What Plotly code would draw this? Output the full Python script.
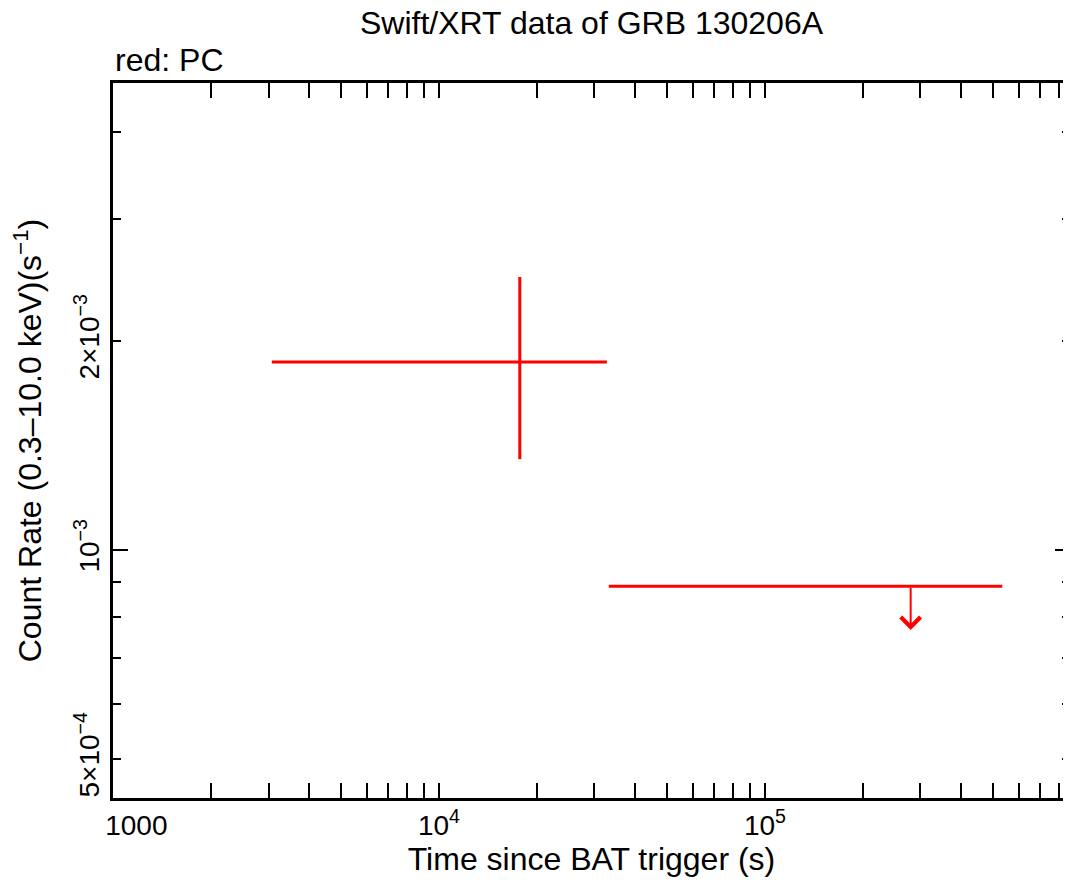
import math
import plotly.graph_objects as go

# ---- data ----
det_t = [17700.0]
det_t_lo = [3070.0]      # start of bin
det_t_hi = [32750.0]     # end of bin
det_rate = [1.866e-3]
det_rate_hi = [2.474e-3]
det_rate_lo = [1.352e-3]

ul_t = [2.80e5]
ul_t_lo = [33200.0]
ul_t_hi = [5.35e5]
ul_rate = [8.87e-4]
ul_arrow_to = [7.67e-4]

x_tickvals = [1000, 1e4, 1e5]
x_ticktext = ["\u2007\u2007\u20071000", "10<sup>4</sup>", "10<sup>5</sup>"]
y_tickvals = [5e-4, 1e-3, 2e-3]
y_ticktext = ["5×10<sup>−4</sup>", "10<sup>−3</sup>", "2×10<sup>−3</sup>"]

x_range = [3.0, 5.936]
y_range = [-3.3573, -2.3271]

RED = "#ff0000"
FONT = "Liberation Sans, Arial, Helvetica, sans-serif"
TITLE_SIZE = 32
TICK_SIZE = 28

W, H = 1063, 876
ML, MR, MT, MB = 105, 1, 75, 86
PH = H - MT - MB

fig = go.Figure()

# detection with error bars
fig.add_trace(go.Scatter(
    x=det_t, y=det_rate, mode="markers",
    marker=dict(size=0.1, color=RED),
    error_x=dict(type="data", symmetric=False,
                 array=[h - c for h, c in zip(det_t_hi, det_t)],
                 arrayminus=[c - l for c, l in zip(det_t, det_t_lo)],
                 color=RED, thickness=3, width=0),
    error_y=dict(type="data", symmetric=False,
                 array=[h - c for h, c in zip(det_rate_hi, det_rate)],
                 arrayminus=[c - l for c, l in zip(det_rate, det_rate_lo)],
                 color=RED, thickness=3, width=0),
    showlegend=False, hoverinfo="skip",
))

# upper limit horizontal bar
fig.add_trace(go.Scatter(
    x=ul_t, y=ul_rate, mode="markers",
    marker=dict(size=0.1, color=RED),
    error_x=dict(type="data", symmetric=False,
                 array=[h - c for h, c in zip(ul_t_hi, ul_t)],
                 arrayminus=[c - l for c, l in zip(ul_t, ul_t_lo)],
                 color=RED, thickness=3, width=0),
    showlegend=False, hoverinfo="skip",
))

# invisible trace for overlay axis (longer major tick at 1e-3)
fig.add_trace(go.Scatter(x=[1e4], y=[1e-3], yaxis="y2", mode="markers",
                         marker=dict(size=0.1, opacity=0), showlegend=False,
                         hoverinfo="skip"))

# upper limit arrow
for t, r0, r1 in zip(ul_t, ul_rate, ul_arrow_to):
    fig.add_annotation(
        x=math.log10(t), y=math.log10(r1), ax=math.log10(t), ay=math.log10(r0),
        xref="x", yref="y", axref="x", ayref="y",
        showarrow=True, arrowhead=4, arrowsize=1.9, arrowwidth=2,
        arrowcolor=RED, text="",
    )

x_minor = [m * 10 ** e for e in (3, 4, 5) for m in range(2, 10)]
y_minor = [m * 10 ** e for e in (-4, -3) for m in range(2, 10)]

axis_common = dict(showline=True, linecolor="black", linewidth=3, mirror="allticks",
                   ticks="inside", tickcolor="black", tickwidth=2,
                   showgrid=False, zeroline=False)

fig.update_layout(
    width=W, height=H,
    margin=dict(l=ML, r=MR, t=MT, b=MB, autoexpand=False),
    paper_bgcolor="white", plot_bgcolor="white",
    font=dict(family=FONT, size=TICK_SIZE, color="black"),
    title=dict(text="Swift/XRT data of GRB 130206A", x=0.5, xref="paper",
               xanchor="center",
               y=1 - 15 / H, yanchor="middle", font=dict(size=TITLE_SIZE)),
    xaxis=dict(type="log", range=x_range, tickvals=x_tickvals, ticktext=x_ticktext,
               ticklen=15,
               minor=dict(tickvals=x_minor, ticks="inside", ticklen=8,
                          tickwidth=2, tickcolor="black", showgrid=False),
               title=dict(text="Time since BAT trigger (s)", standoff=6,
                          font=dict(size=TITLE_SIZE)),
               tickfont=dict(size=TICK_SIZE),
               **axis_common),
    yaxis=dict(type="log", range=y_range, tickvals=y_tickvals, ticktext=y_ticktext,
               ticklen=8, tickangle=-90,
               minor=dict(tickvals=y_minor, ticks="inside", ticklen=8,
                          tickwidth=2, tickcolor="black", showgrid=False),
               title=dict(text="Count Rate (0.3–10.0 keV)(s<sup>−1</sup>)", standoff=24,
                          font=dict(size=TITLE_SIZE)),
               tickfont=dict(size=TICK_SIZE),
               **axis_common),
    yaxis2=dict(type="log", range=y_range, overlaying="y", tickvals=[1e-3],
                ticklen=15, showticklabels=False, **axis_common),
)

fig.add_annotation(text="red: PC", x=0, xref="paper", xanchor="left",
                   y=1 + (MT - 52) / PH, yref="paper", yanchor="middle",
                   showarrow=False, font=dict(size=TITLE_SIZE))

fig.write_html("out.html")
